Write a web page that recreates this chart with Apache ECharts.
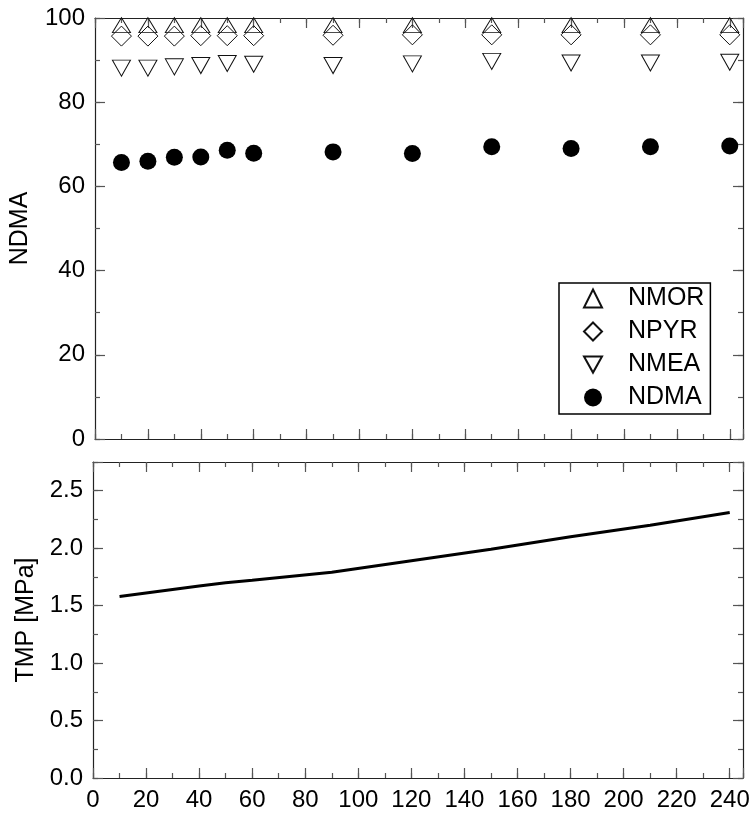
<!DOCTYPE html>
<html>
<head>
<meta charset="utf-8">
<script src="https://cdn.jsdelivr.net/npm/echarts@6/dist/echarts.min.js"></script>
<style>
html,body{margin:0;padding:0;background:#fff;}
#chart{width:755px;height:821px;}
</style>
</head>
<body>
<div id="chart"></div>
<script>
// ---- data ----
var xValues = [10, 20, 30, 40, 50, 60, 90, 120, 150, 180, 210, 240];
var nmor = [98.3, 98.3, 98.3, 98.3, 98.3, 98.3, 98.3, 98.3, 98.3, 98.3, 98.3, 98.3];
var npyr = [95.7, 95.7, 95.7, 95.8, 95.8, 95.8, 95.9, 96.0, 96.0, 96.0, 96.0, 96.0];
var nmea = [88.1, 88.1, 88.4, 88.7, 89.2, 89.0, 88.7, 89.1, 89.7, 89.3, 89.3, 89.5];
var ndma = [65.7, 66.0, 66.9, 67.0, 68.6, 67.9, 68.2, 67.8, 69.4, 69.0, 69.4, 69.6];
var tmp  = [1.58, 1.61, 1.64, 1.67, 1.70, 1.72, 1.79, 1.89, 1.99, 2.10, 2.20, 2.31];
var seriesNames = ['NMOR', 'NPYR', 'NMEA', 'NDMA'];
var yNameTop = 'NDMA';
var yNameBottom = 'TMP [MPa]';

function pairs(ys) { return xValues.map(function (x, i) { return [x, ys[i]]; }); }

var FONT = 'Arial, "Liberation Sans", sans-serif';
var LINE = '#222';
var TICK = '#555';

function isMult(v, step) { var r = v / step; return Math.abs(r - Math.round(r)) < 1e-6; }

function xAx(grid, pos, interval, len, showLine, labels) {
  return {
    type: 'value', gridIndex: grid, position: pos, min: 0, max: 245, interval: interval,
    axisLine: { show: showLine, onZero: false, lineStyle: { color: LINE, width: 1.2 } },
    axisTick: { show: true, inside: true, length: len, lineStyle: { color: TICK, width: 1.2 } },
    axisLabel: labels ? {
      show: true, margin: 10, color: '#000', fontSize: 24, fontFamily: FONT,
      formatter: function (v) { return isMult(v, 20) ? String(v) : ''; }
    } : { show: false },
    splitLine: { show: false }
  };
}
function yAx(grid, pos, max, interval, len, showLine, labels, fmtStep, name, gap) {
  var o = {
    type: 'value', gridIndex: grid, position: pos, min: 0, max: max, interval: interval,
    axisLine: { show: showLine, onZero: false, lineStyle: { color: LINE, width: 1.2 } },
    axisTick: { show: true, inside: true, length: len, lineStyle: { color: TICK, width: 1.2 } },
    axisLabel: labels ? {
      show: true, margin: 10, color: '#000', fontSize: 24, fontFamily: FONT,
      formatter: function (v) {
        if (!isMult(v, fmtStep)) return '';
        return fmtStep < 1 ? v.toFixed(1) : String(v);
      }
    } : { show: false },
    splitLine: { show: false }
  };
  if (name) {
    o.name = name; o.nameLocation = 'middle'; o.nameGap = gap;
    o.nameTextStyle = { color: '#000', fontSize: 25, fontFamily: FONT };
  }
  return o;
}

var hollow = { color: 'rgba(255,255,255,0)', borderColor: '#111', borderWidth: 1, opacity: 1 };

var option = {
  backgroundColor: '#fff',
  animation: false,
  grid: [
    { left: 93, top: 18, width: 650, height: 421, containLabel: false },
    { left: 93, top: 462, width: 650, height: 316, containLabel: false }
  ],
  xAxis: [
    xAx(0, 'bottom', 20, 10, true, false),
    xAx(0, 'bottom', 10, 5, false, false),
    xAx(0, 'top', 20, 10, true, false),
    xAx(0, 'top', 10, 5, false, false),
    xAx(1, 'bottom', 20, 10, true, true),
    xAx(1, 'bottom', 10, 5, false, false),
    xAx(1, 'top', 20, 10, true, false),
    xAx(1, 'top', 10, 5, false, false)
  ],
  yAxis: [
    yAx(0, 'left', 100, 20, 10, true, true, 20, yNameTop, 62),
    yAx(0, 'left', 100, 10, 5, false, false),
    yAx(0, 'right', 100, 20, 10, true, false),
    yAx(0, 'right', 100, 10, 5, false, false),
    yAx(1, 'left', 2.75, 0.5, 10, true, true, 0.5, yNameBottom, 50),
    yAx(1, 'left', 2.75, 0.25, 5, false, false),
    yAx(1, 'right', 2.75, 0.5, 10, true, false),
    yAx(1, 'right', 2.75, 0.25, 5, false, false)
  ],
  legend: {
    orient: 'vertical', left: 559, top: 283,
    data: [
      { name: seriesNames[0] },
      { name: seriesNames[1] },
      { name: seriesNames[2], icon: 'path://M0,0 L20,0 L10,18 Z' },
      { name: seriesNames[3] }
    ],
    itemWidth: 18, itemHeight: 18, itemGap: 8,
    padding: [3, 6, 4, 24],
    borderColor: '#000', borderWidth: 1.5,
    textStyle: { color: '#000', fontSize: 25, fontFamily: FONT, padding: [0, 0, 0, 21] },
    selectedMode: false
  },
  series: [
    { name: seriesNames[0], type: 'scatter', xAxisIndex: 0, yAxisIndex: 0, data: pairs(nmor),
      symbol: 'triangle', symbolSize: [18, 15], itemStyle: hollow },
    { name: seriesNames[1], type: 'scatter', xAxisIndex: 0, yAxisIndex: 0, data: pairs(npyr),
      symbol: 'diamond', symbolSize: 20, itemStyle: hollow },
    { name: seriesNames[2], type: 'scatter', xAxisIndex: 0, yAxisIndex: 0, data: pairs(nmea),
      symbol: 'triangle', symbolRotate: 180, symbolSize: [18, 16], itemStyle: hollow },
    { name: seriesNames[3], type: 'scatter', xAxisIndex: 0, yAxisIndex: 0, data: pairs(ndma),
      symbol: 'circle', symbolSize: 17,
      itemStyle: { color: '#000', opacity: 1 } },
    { name: 'TMP', type: 'line', xAxisIndex: 4, yAxisIndex: 4, data: pairs(tmp),
      showSymbol: false, symbol: 'none',
      lineStyle: { color: '#000', width: 3 } }
  ]
};
var chart = echarts.init(document.getElementById('chart'), null, { renderer: 'canvas' });
chart.setOption(option);
</script>
</body>
</html>
